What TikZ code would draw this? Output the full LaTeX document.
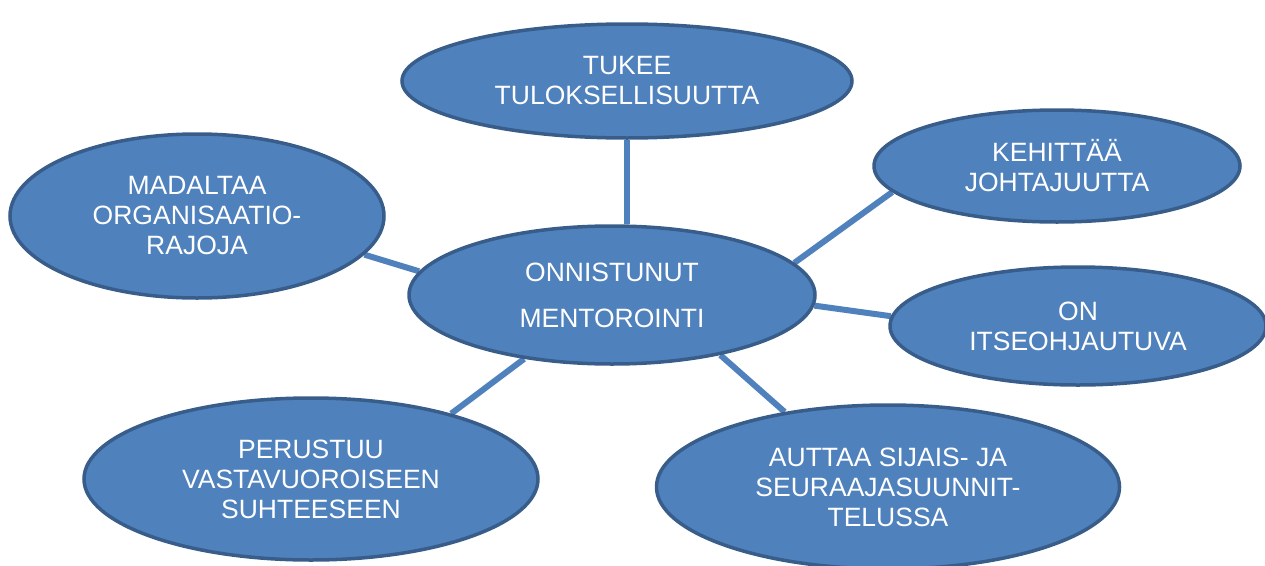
\documentclass[tikz,border=0pt]{standalone}
\usepackage{fontspec}
\setmainfont{Liberation Sans}
\usetikzlibrary{shapes.geometric,backgrounds}
\definecolor{bubblefill}{HTML}{4F81BD}
\definecolor{bubbleedge}{HTML}{385D8A}
\begin{document}
\begin{tikzpicture}[x=1pt,y=-1pt,
  bubble/.style={ellipse,fill=bubblefill,draw=bubbleedge,line width=3.5pt,
    text=white,align=center,inner sep=0pt,
    font=\fontsize{26.5}{30}\selectfont},
  link/.style={draw=bubblefill,line width=6pt}]
\useasboundingbox (0,0) rectangle (1265,565);
\clip (0,0) rectangle (1265,565);
\node[bubble,minimum width=406pt,minimum height=138pt,
  font=\fontsize{26.5}{46}\selectfont] (c) at (612,295) {ONNISTUNUT\\MENTOROINTI};
\node[bubble,minimum width=450pt,minimum height=114pt] (t) at (627,81) {TUKEE\\TULOKSELLISUUTTA};
\node[bubble,minimum width=366pt,minimum height=112pt] (k) at (1057,166) {KEHITTÄÄ\\JOHTAJUUTTA};
\node[bubble,minimum width=374pt,minimum height=164pt] (m) at (197,216) {MADALTAA\\ORGANISAATIO-\\RAJOJA};
\node[bubble,minimum width=376pt,minimum height=118pt] (o) at (1078,326) {ON\\ITSEOHJAUTUVA};
\node[bubble,minimum width=454pt,minimum height=162pt] (p) at (311,479) {PERUSTUU\\VASTAVUOROISEEN\\SUHTEESEEN};
\node[bubble,minimum width=463pt,minimum height=164pt] (a) at (888,487) {AUTTAA SIJAIS- JA\\SEURAAJASUUNNIT-\\TELUSSA};
\begin{pgfonlayer}{background}
\draw[link] (t.south) -- (t.south |- c.north);
\draw[link] (c.10) -- (k.189);
\draw[link] (c.173.5) -- (m.-13.2);
\draw[link] (c.-3.6) -- (o.177.5);
\draw[link] (c.216) -- (p.25.4);
\draw[link] (c.-29.4) -- (a.144.5);
\end{pgfonlayer}
\end{tikzpicture}
\end{document}
